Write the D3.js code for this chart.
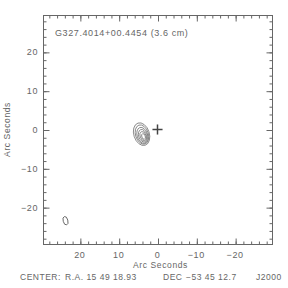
<!DOCTYPE html>
<html>
<head>
<meta charset="utf-8">
<script src="https://cdn.jsdelivr.net/npm/d3@7"></script>
<style>
  body { margin: 0; background: #fff; }
  text { font-family: "Liberation Sans", "DejaVu Sans", sans-serif; fill: #666; letter-spacing: 0.6px; }
</style>
</head>
<body>
<svg id="chart"></svg>
<script>
// Chart values
var sourceName = "G327.4014+00.4454 (3.6 cm)";
var xTicks = [20, 10, 0, -10, -20];
var yTicks = [20, 10, 0, -10, -20];
var axisDomain = [29.5, -29.5];

// contour ellipses of the main source: centre offsets (arcsec), semi-axes (arcsec)
var contourDx = [4.1, 4.0, 3.9, 3.8, 3.7, 3.6];
var contourDy = [-1.2, -1.3, -1.5, -1.6, -1.7, -1.8];
var contourMajor = [3.0, 2.55, 2.1, 1.65, 1.2, 0.75];
var contourMinor = [2.0, 1.65, 1.35, 1.05, 0.75, 0.45];
var contourAngle = 18; // degrees, tilt of major axis

// beam
var beamX = [23.7], beamY = [-23.5], beamMajor = [1.1], beamMinor = [0.6], beamAngle = 15;

// reference position marker
var crossX = [0], crossY = [0], crossSize = 1.3;

var centerLabel = ["CENTER:", "R.A. 15 49 18.93", "DEC", "\u221253 45 12.7", "J2000"];
var centerLabelX = [20, 65, 163, 186, 256];

var width = 288, height = 288;
var plotLeft = 43, plotRight = 272, plotTop = 15, plotBottom = 244;

var svg = d3.select("#chart")
    .attr("width", width)
    .attr("height", height);

var x = d3.scaleLinear().domain(axisDomain).range([plotLeft, plotRight]);
var y = d3.scaleLinear().domain([-29.5, 29.5]).range([plotBottom, plotTop]);

var ink = "#666";

// frame
svg.append("rect")
    .attr("x", plotLeft + 0.5).attr("y", plotTop + 0.5)
    .attr("width", plotRight - plotLeft).attr("height", plotBottom - plotTop)
    .attr("fill", "none").attr("stroke", ink).attr("stroke-width", 1);

// axes: major ticks every 10, minor every 2
var minor = d3.range(-28, 29, 2);

function tickAxis(axis, pos) {
    var g = svg.append("g").attr("transform", pos).call(axis);
    g.select(".domain").remove();
    g.selectAll("line").attr("stroke", ink);
}

var bx = "translate(0.5," + (plotBottom + 0.5) + ")";
var tx = "translate(0.5," + (plotTop + 0.5) + ")";
var ly = "translate(" + (plotLeft + 0.5) + ",0.5)";
var ry = "translate(" + (plotRight + 0.5) + ",0.5)";
tickAxis(d3.axisTop(x).tickValues(minor).tickSize(3).tickFormat(""), bx);
tickAxis(d3.axisTop(x).tickValues(xTicks).tickSize(6).tickFormat(""), bx);
tickAxis(d3.axisBottom(x).tickValues(minor).tickSize(3).tickFormat(""), tx);
tickAxis(d3.axisBottom(x).tickValues(xTicks).tickSize(6).tickFormat(""), tx);
tickAxis(d3.axisRight(y).tickValues(minor).tickSize(3).tickFormat(""), ly);
tickAxis(d3.axisRight(y).tickValues(yTicks).tickSize(6).tickFormat(""), ly);
tickAxis(d3.axisLeft(y).tickValues(minor).tickSize(3).tickFormat(""), ry);
tickAxis(d3.axisLeft(y).tickValues(yTicks).tickSize(6).tickFormat(""), ry);

function fmt(v) { return v < 0 ? "\u2212" + Math.abs(v) : String(v); }

// tick labels
svg.append("g").selectAll("text")
    .data(xTicks).enter().append("text")
    .attr("x", function (d) { return x(d); })
    .attr("y", 258)
    .attr("text-anchor", "middle")
    .attr("font-size", 9)
    .text(fmt);

svg.append("g").selectAll("text")
    .data(yTicks).enter().append("text")
    .attr("x", plotLeft - 5)
    .attr("y", function (d) { return y(d) + 3.5; })
    .attr("text-anchor", "end")
    .attr("font-size", 9)
    .text(fmt);

// axis titles
svg.append("text")
    .attr("x", (plotLeft + plotRight) / 2 + 3).attr("y", 268)
    .attr("text-anchor", "middle").attr("font-size", 8.5)
    .text("Arc Seconds");

svg.append("text")
    .attr("transform", "translate(10," + ((plotTop + plotBottom) / 2) + ") rotate(-90)")
    .attr("text-anchor", "middle").attr("font-size", 8.5)
    .text("Arc Seconds");

// source name
svg.append("text")
    .attr("x", 55).attr("y", 36)
    .attr("font-size", 9)
    .text(sourceName);

// bottom centre line
svg.append("g").selectAll("text")
    .data(centerLabel).enter().append("text")
    .attr("x", function (d, i) { return centerLabelX[i]; })
    .attr("y", 280)
    .attr("font-size", 8.5)
    .style("letter-spacing", "0.5px")
    .text(function (d) { return d; });

// contours
var k = (plotRight - plotLeft) / (axisDomain[0] - axisDomain[1]);
svg.append("g").selectAll("ellipse")
    .data(contourMajor).enter().append("ellipse")
    .attr("cx", function (d, i) { return x(contourDx[i]); })
    .attr("cy", function (d, i) { return y(contourDy[i]); })
    .attr("rx", function (d, i) { return contourMinor[i] * k; })
    .attr("ry", function (d) { return d * k; })
    .attr("transform", function (d, i) {
        return "rotate(" + (-contourAngle) + "," + x(contourDx[i]) + "," + y(contourDy[i]) + ")";
    })
    .attr("fill", "none").attr("stroke", "#666").attr("stroke-width", 0.7);

// beam
svg.append("g").selectAll("ellipse")
    .data(beamMajor).enter().append("ellipse")
    .attr("cx", function (d, i) { return x(beamX[i]); })
    .attr("cy", function (d, i) { return y(beamY[i]); })
    .attr("rx", function (d, i) { return beamMinor[i] * k; })
    .attr("ry", function (d) { return d * k; })
    .attr("transform", function (d, i) {
        return "rotate(" + (-beamAngle) + "," + x(beamX[i]) + "," + y(beamY[i]) + ")";
    })
    .attr("fill", "none").attr("stroke", "#666").attr("stroke-width", 0.9);

// cross
var cross = svg.append("g").selectAll("g").data(crossX).enter().append("g");
cross.append("line")
    .attr("x1", function (d) { return x(d - crossSize); })
    .attr("x2", function (d) { return x(d + crossSize); })
    .attr("y1", function (d, i) { return y(crossY[i]); })
    .attr("y2", function (d, i) { return y(crossY[i]); })
    .attr("stroke", "#444").attr("stroke-width", 1.5);
cross.append("line")
    .attr("x1", function (d) { return x(d); })
    .attr("x2", function (d) { return x(d); })
    .attr("y1", function (d, i) { return y(crossY[i] - crossSize); })
    .attr("y2", function (d, i) { return y(crossY[i] + crossSize); })
    .attr("stroke", "#444").attr("stroke-width", 1.5);
</script>
</body>
</html>
